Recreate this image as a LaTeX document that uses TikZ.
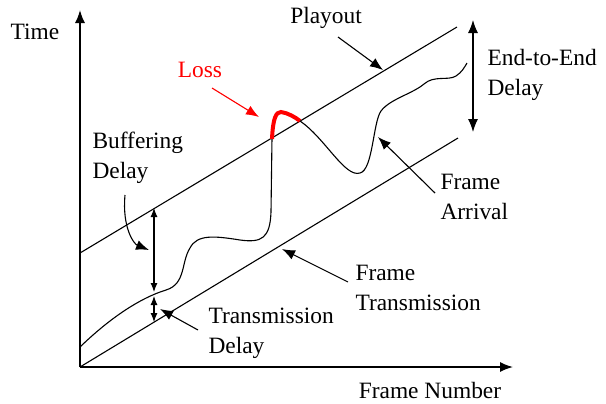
\documentclass[tikz,border=0pt]{standalone}
\usepackage{fontspec}
\setmainfont{Liberation Serif}
\usetikzlibrary{arrows.meta, positioning}

\begin{document}
\begin{tikzpicture}[x=0.5pt, y=-0.5pt, font=\fontsize{11.7}{15}\selectfont,
    >={Latex[length=6.5pt, width=5pt]}, line width=0.55pt,
    lbl/.style={anchor=west, align=left, inner sep=0pt}]
    \useasboundingbox (0,0) rectangle (606,403);

    % axes
    \coordinate (O) at (80,367);
    \coordinate (ytop) at (80,10);
    \coordinate (xend) at (513,367);
    \draw[->, line width=0.75pt] (O) -- (ytop);
    \draw[->, line width=0.75pt] (O) -- (xend);
    \node (time) at (35,32) {Time};
    \node (fnum) at (430,390) {Frame Number};

    % playout and transmission lines
    \coordinate (p0) at (80,253);
    \coordinate (p1) at (457,27);
    \coordinate (t1) at (458,138);
    \draw (p0) -- (p1);
    \draw (O) -- (t1);

    % frame arrival
    \draw (80,347) .. controls (110,318) and (140,298) .. (166,290)
        .. controls (186,284) and (181,262) .. (190,248)
        .. controls (197,234) and (215,236) .. (240,240)
        .. controls (262,243) and (270,238) .. (271,212) -- (272,138);
    \draw[red, line width=2pt] (272,139) .. controls (273,118) and (276,112) .. (281,112)
        .. controls (288,113) and (295,117) .. (300,121);
    \draw (300,121) .. controls (325,138) and (345,178) .. (360,173)
        .. controls (373,170) and (373,122) .. (381,111)
        .. controls (390,99) and (412,94) .. (424,84)
        .. controls (434,75) and (448,81) .. (456,76)
        .. controls (462,72) and (464,68) .. (467,63);

    % delays
    \coordinate (bd1) at (154,208);
    \coordinate (bd2) at (154,292);
    \coordinate (td1) at (154,296);
    \coordinate (td2) at (154,322);
    \draw[<->, >={Latex[length=4.5pt, width=3.5pt]}] (bd1) -- (bd2);
    \draw[<->, >={Latex[length=4.5pt, width=3.5pt]}] (td1) -- (td2);
    \coordinate (ee1) at (473,20);
    \coordinate (ee2) at (473,132);
    \draw[<->] (ee1) -- (ee2);

    % labels
    \node (play) at (326,18) {Playout};
    \node[red] (loss) at (200,70) {Loss};
    \node[lbl] (buf) at (92,158) {Buffering\\Delay};
    \node[lbl] (tdl) at (208,333) {Transmission\\Delay};
    \node[lbl] (ftr) at (355,288) {Frame\\Transmission};
    \node[lbl] (far) at (440,197) {Frame\\Arrival};
    \node[lbl] (eed) at (487,75) {End-to-End\\Delay};

    % pointers
    \coordinate (playA) at (338,37);
    \coordinate (playB) at (383,70);
    \draw[->] (playA) -- (playB);
    \coordinate (lossA) at (212,88);
    \coordinate (lossB) at (259,117);
    \draw[->, red] (lossA) -- (lossB);
    \coordinate (bufA) at (125,195);
    \coordinate (bufB) at (149,250);
    \draw[->] (bufA) .. controls (122,228) and (134,244) .. (bufB);
    \coordinate (tdA) at (198,330);
    \coordinate (tdB) at (160,309);
    \draw[->] (tdA) -- (tdB);
    \coordinate (ftA) at (348,282);
    \coordinate (ftB) at (282,249);
    \draw[->] (ftA) -- (ftB);
    \coordinate (faA) at (435,193);
    \coordinate (faB) at (378,137);
    \draw[->] (faA) -- (faB);
\end{tikzpicture}
\end{document}
